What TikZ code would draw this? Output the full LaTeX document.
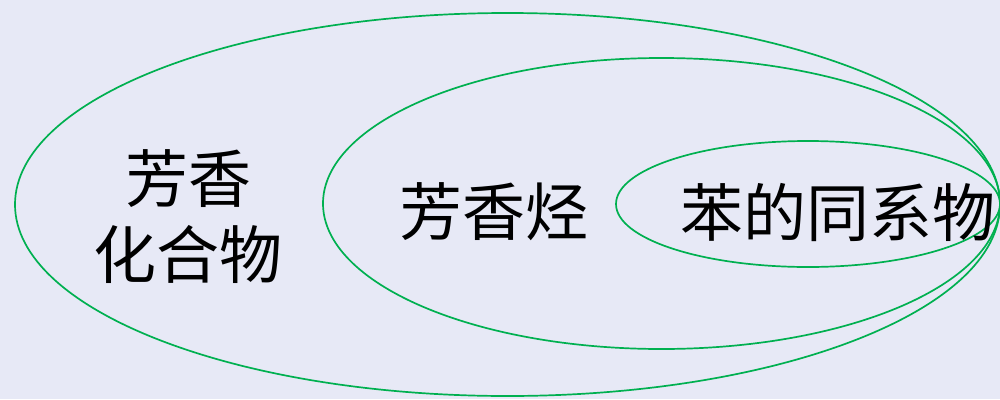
\documentclass[tikz,border=0pt]{standalone}
\usepackage{fontspec}
\newfontfamily\cjk{Noto Sans CJK SC}
\definecolor{bg}{RGB}{231,233,246}
\definecolor{ring}{RGB}{0,176,80}
\begin{document}
\begin{tikzpicture}[x=1pt,y=-1pt,
  ringstyle/.style={draw=ring,line width=1.7pt},
  lab/.style={font=\cjk\fontsize{63}{76}\selectfont,text=black,align=center,inner sep=0pt}]
\fill[bg] (0,0) rectangle (1000,399);
\useasboundingbox (0,0) rectangle (1000,399);
\draw[ringstyle] (507.5,204.5) ellipse [x radius=492.5, y radius=191.5];
\draw[ringstyle] (661.5,203.5) ellipse [x radius=338.5, y radius=145.5];
\draw[ringstyle] (808,204) ellipse [x radius=192, y radius=63];
\node[lab] (a) at (188,217) {芳香\\化合物};
\node[lab] (b) at (494,212) {芳香烃};
\node[lab] (c) at (838,212) {苯的同系物};
\end{tikzpicture}
\end{document}
